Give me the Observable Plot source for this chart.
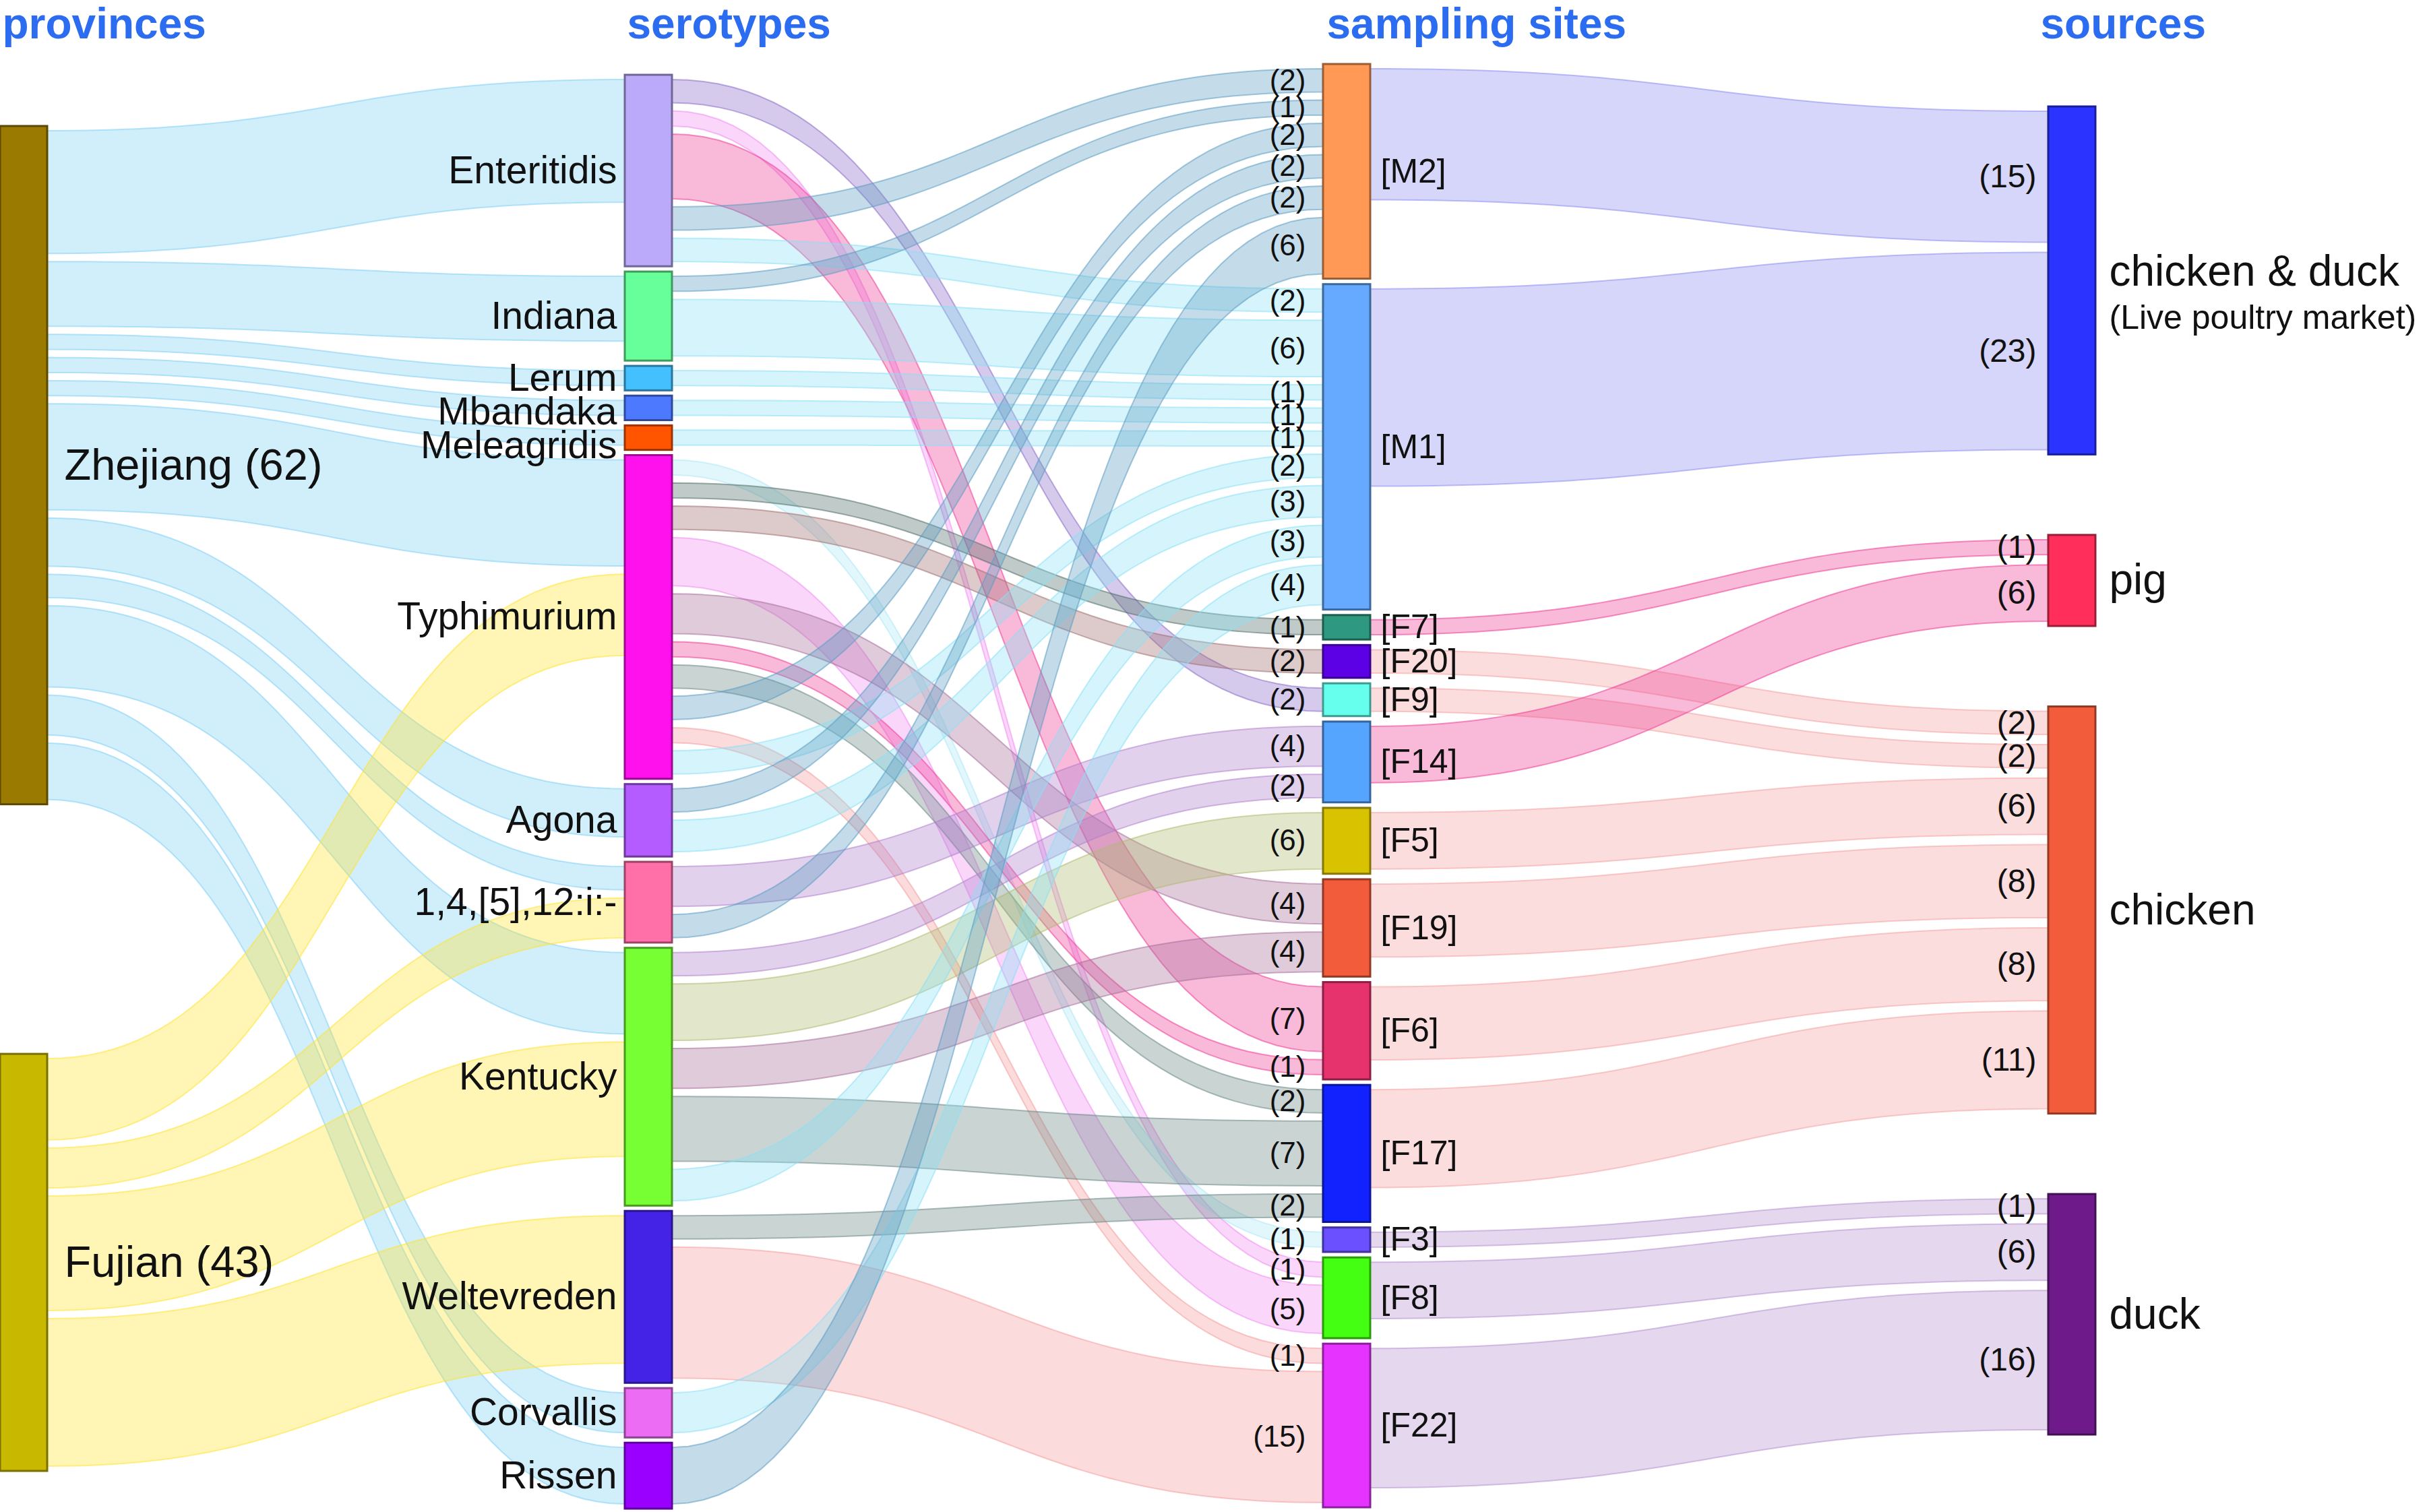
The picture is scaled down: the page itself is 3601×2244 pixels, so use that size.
<!DOCTYPE html>
<html>
<head>
<meta charset="utf-8">
<script src="https://cdn.jsdelivr.net/npm/d3@7"></script>
<script src="https://cdn.jsdelivr.net/npm/@observablehq/plot@0.6"></script>
<style>
  html, body { margin: 0; padding: 0; background: #fff; overflow: hidden; }
  #chart svg { display: block; }
</style>
</head>
<body>
<div id="chart"></div>
<script>
// ---------------- DATA ----------------
const headers = ["provinces", "serotypes", "sampling sites", "sources"];

const provinces = ["Zhejiang", "Fujian"];
const serotypes = ["Enteritidis", "Indiana", "Lerum", "Mbandaka", "Meleagridis", "Typhimurium",
  "Agona", "1,4,[5],12:i:-", "Kentucky", "Weltevreden", "Corvallis", "Rissen"];
const sites = ["M2", "M1", "F7", "F20", "F9", "F14", "F5", "F19", "F6", "F17", "F3", "F8", "F22"];
const sources = ["chicken & duck", "pig", "chicken", "duck"];
const sourceNotes = ["(Live poultry market)", "", "", ""];

// province -> serotype : [source, target, isolates]
const provinceLinks = [
  ["Zhejiang", "Enteritidis", 14], ["Zhejiang", "Indiana", 7], ["Zhejiang", "Lerum", 1],
  ["Zhejiang", "Mbandaka", 1], ["Zhejiang", "Meleagridis", 1], ["Zhejiang", "Typhimurium", 12],
  ["Zhejiang", "Agona", 5], ["Zhejiang", "1,4,[5],12:i:-", 2], ["Zhejiang", "Kentucky", 9],
  ["Zhejiang", "Corvallis", 4], ["Zhejiang", "Rissen", 6],
  ["Fujian", "Typhimurium", 9], ["Fujian", "1,4,[5],12:i:-", 4], ["Fujian", "Kentucky", 13],
  ["Fujian", "Weltevreden", 17]
];

// serotype -> sampling site
const serotypeLinks = [
  ["Enteritidis", "F9", 2], ["Enteritidis", "F8", 1], ["Enteritidis", "F6", 7],
  ["Enteritidis", "M2", 2], ["Enteritidis", "M1", 2],
  ["Indiana", "M2", 1], ["Indiana", "M1", 6],
  ["Lerum", "M1", 1], ["Mbandaka", "M1", 1], ["Meleagridis", "M1", 1],
  ["Typhimurium", "F3", 1], ["Typhimurium", "F7", 1], ["Typhimurium", "F20", 2],
  ["Typhimurium", "F8", 5], ["Typhimurium", "F19", 4], ["Typhimurium", "F6", 1],
  ["Typhimurium", "F17", 2], ["Typhimurium", "M2", 2], ["Typhimurium", "F22", 1],
  ["Typhimurium", "M1", 2],
  ["Agona", "M2", 2], ["Agona", "M1", 3],
  ["1,4,[5],12:i:-", "F14", 4], ["1,4,[5],12:i:-", "M2", 2],
  ["Kentucky", "F14", 2], ["Kentucky", "F5", 6], ["Kentucky", "F19", 4],
  ["Kentucky", "F17", 7], ["Kentucky", "M1", 3],
  ["Weltevreden", "F17", 2], ["Weltevreden", "F22", 15],
  ["Corvallis", "M1", 4],
  ["Rissen", "M2", 6]
];

// sampling site -> source
const siteLinks = [
  ["M2", "chicken & duck", 15], ["M1", "chicken & duck", 23],
  ["F7", "pig", 1], ["F20", "chicken", 2], ["F9", "chicken", 2], ["F14", "pig", 6],
  ["F5", "chicken", 6], ["F19", "chicken", 8], ["F6", "chicken", 8], ["F17", "chicken", 11],
  ["F3", "duck", 1], ["F8", "duck", 6], ["F22", "duck", 16]
];

// ---------------- STYLE ----------------
const provinceColors = ["#9a7a00", "#c8b800"];
const serotypeColors = ["#baaaf9", "#66ff99", "#44c0ff", "#4d79ff", "#ff5500", "#ff11ee",
  "#b45cff", "#ff70a8", "#77ff33", "#4422e6", "#ec6cf4", "#9900ff"];
const siteColors = ["#ff9955", "#66aaff", "#2e9980", "#5c00e6", "#66ffee", "#55a5ff", "#d9c300",
  "#f25c3a", "#e6336e", "#1122ff", "#6a50ff", "#44ff11", "#e633ff"];
const sourceColors = ["#2a33ff", "#ff2e5a", "#f25c3a", "#6e1a8a"];

const provinceLinkColors = ["#7fd0f5", "#ffe433"];
const siteLinkColors = ["#5b9cc2", "#8be0f5", "#50706a", "#a07070", "#8a6cc8", "#b07fcc", "#b0ba70",
  "#a8709a", "#ee3d96", "#6a8886", "#aee8f5", "#f08cf0", "#f59c9c"];
const sourceLinkColors = ["#8c8cf0", "#ee3d96", "#f5a0a0", "#b690d0"];

// ---------------- LAYOUT ----------------
const W = 3601, H = 2244;
const NODE_W = 70, PAD = 7;
const colLinkGap = [12, 12, 12, 15];
const linkW = v => 10 + 12.3 * v;
const colX = [0, 927, 1963, 3039];
const colSpan = [[187, 2183], [111, 2239], [95, 2237], [158, 2129]];
const columns = [provinces, serotypes, sites, sources];
const nodeColors = [provinceColors, serotypeColors, siteColors, sourceColors];

const nodes = new Map();
columns.forEach((names, c) => names.forEach((name, i) => {
  const fill = nodeColors[c][i];
  nodes.set(c + ":" + name, {name, c, i, ins: [], outs: [], fill,
    stroke: d3.color(fill).darker(1.4).formatHex()});
}));

const allLinks = [
  ...provinceLinks.map(([s, t, v]) => ({s, t, v, layer: 0, color: provinceLinkColors[provinces.indexOf(s)]})),
  ...serotypeLinks.map(([s, t, v]) => ({s, t, v, layer: 1, color: siteLinkColors[sites.indexOf(t)]})),
  ...siteLinks.map(([s, t, v]) => ({s, t, v, layer: 2, color: sourceLinkColors[sources.indexOf(t)]}))
];
allLinks.forEach((l, k) => {
  l.id = k;
  l.src = nodes.get(l.layer + ":" + l.s);
  l.tgt = nodes.get((l.layer + 1) + ":" + l.t);
  l.src.outs.push(l);
  l.tgt.ins.push(l);
});

const stackH = (arr, g) => arr.length ? d3.sum(arr, l => linkW(l.v)) + (arr.length - 1) * g : 0;
for (const n of nodes.values()) {
  const g = colLinkGap[n.c];
  n.h = Math.max(stackH(n.ins, g), stackH(n.outs, g)) + 2 * PAD;
  n.value = Math.max(d3.sum(n.ins, l => l.v), d3.sum(n.outs, l => l.v));
}
columns.forEach((names, c) => {
  const ns = names.map(nm => nodes.get(c + ":" + nm));
  const [top, bot] = colSpan[c];
  const total = d3.sum(ns, n => n.h);
  const g = ns.length > 1 ? (bot - top - total) / (ns.length - 1) : 0;
  let y = ns.length > 1 ? top : (top + bot - total) / 2;
  for (const n of ns) {
    n.y0 = y; n.y1 = y + n.h; n.x0 = colX[c]; n.x1 = colX[c] + NODE_W; n.ym = (n.y0 + n.y1) / 2;
    y += n.h + g;
  }
});
for (const n of nodes.values()) {
  const g = colLinkGap[n.c];
  let y = n.y0 + PAD;
  for (const l of n.outs) { l.sy0 = y; l.sy1 = y + linkW(l.v); y = l.sy1 + g; }
  y = n.y0 + PAD;
  const ins = [...n.ins].sort((a, b) => a.src.i - b.src.i);
  for (const l of ins) { l.ty0 = y; l.ty1 = y + linkW(l.v); y = l.ty1 + g; }
}

// ribbon geometry (horizontal cubic bezier)
const bez = (p0, p1, p2, p3, t) => {
  const u = 1 - t;
  return u * u * u * p0 + 3 * u * u * t * p1 + 3 * u * t * t * p2 + t * t * t * p3;
};
const ribbons = [];
for (const l of allLinks) {
  const x0 = l.src.x1, x1 = l.tgt.x0, xm = (x0 + x1) / 2;
  for (let k = 0; k <= 60; k++) {
    const t = k / 60;
    ribbons.push({id: l.id, color: l.color,
      x: bez(x0, xm, xm, x1, t),
      y1: bez(l.sy0, l.sy0, l.ty0, l.ty0, t),
      y2: bez(l.sy1, l.sy1, l.ty1, l.ty1, t)});
  }
}

const nodeList = [...nodes.values()];
const colNodes = c => nodeList.filter(n => n.c === c);

// serotype labels: keep a minimum spacing
const seroLabels = colNodes(1).map(n => ({name: n.name, x: n.x0 - 12, y: n.ym}));
for (let i = 1; i < seroLabels.length; i++) {
  const minGap = 50;
  if (seroLabels[i].y - seroLabels[i - 1].y < minGap) seroLabels[i].y = seroLabels[i - 1].y + minGap;
}

const headerData = headers.map((h, c) => ({text: h, x: colX[c] + [3, 3, 5, -12][c]}));

const FONT = "Liberation Sans, Arial, Helvetica, sans-serif";

const chart = Plot.plot({
  width: W, height: H, margin: 0,
  x: {type: "linear", domain: [0, W], range: [0, W], axis: null},
  y: {type: "linear", domain: [0, H], range: [0, H], axis: null},
  color: {type: "identity"},
  style: {background: "#ffffff", fontFamily: FONT},
  marks: [
    Plot.areaY(ribbons, {x: "x", y1: "y1", y2: "y2", z: "id", fill: "color", fillOpacity: 0.36,
      stroke: "color", strokeOpacity: 0.55, strokeWidth: 2}),
    Plot.rect(nodeList, {x1: "x0", x2: "x1", y1: "y0", y2: "y1", fill: "fill", stroke: "stroke", strokeWidth: 3}),
    // headers
    Plot.text(headerData, {x: "x", y: () => 36, text: "text", textAnchor: "start", fontSize: 64,
      fontWeight: "bold", fill: "#2b6cf0"}),
    // provinces
    Plot.text(colNodes(0), {x: d => d.x1 + 25, y: "ym", text: d => `${d.name} (${d.value})`,
      textAnchor: "start", fontSize: 65, fill: "#111"}),
    // serotypes
    Plot.text(seroLabels, {x: "x", y: "y", text: "name", textAnchor: "end", fontSize: 57, fill: "#111"}),
    // sampling sites
    Plot.text(colNodes(2), {x: d => d.x1 + 15, y: "ym", text: d => `[${d.name}]`,
      textAnchor: "start", fontSize: 50, fill: "#111"}),
    // sources
    Plot.text(colNodes(3), {x: d => d.x1 + 20, y: d => d.ym - (sourceNotes[d.i] ? 13 : 0), text: "name",
      textAnchor: "start", fontSize: 64, fill: "#111"}),
    Plot.text(colNodes(3).filter(d => sourceNotes[d.i]), {x: d => d.x1 + 20, y: d => d.ym + 55,
      text: d => sourceNotes[d.i], textAnchor: "start", fontSize: 50, fill: "#111"}),
    // link values at sampling sites
    Plot.text(allLinks.filter(l => l.layer === 1), {x: l => l.tgt.x0 - 26, y: l => (l.ty0 + l.ty1) / 2,
      text: l => `(${l.v})`, textAnchor: "end", fontSize: 44, fill: "#111"}),
    // link values at sources
    Plot.text(allLinks.filter(l => l.layer === 2), {x: l => l.tgt.x0 - 18, y: l => (l.ty0 + l.ty1) / 2,
      text: l => `(${l.v})`, textAnchor: "end", fontSize: 48, fill: "#111"})
  ]
});
document.getElementById("chart").appendChild(chart);
</script>
</body>
</html>
